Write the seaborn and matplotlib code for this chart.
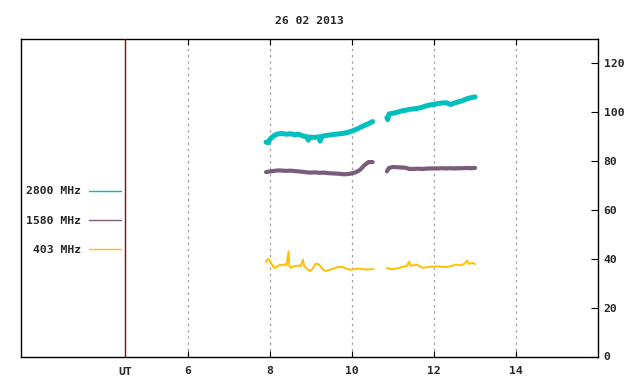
import numpy as np
import pandas as pd
import matplotlib
matplotlib.use("Agg")
import matplotlib.pyplot as plt
from matplotlib.lines import Line2D
import seaborn as sns

title = "26 02 2013"
bands = ["2800 MHz", "1580 MHz", "403 MHz"]
colors = ["#00bfbf", "#7a5c7a", "#ffc000"]

# 2800 MHz
t2800_a = [7.9, 7.95, 8.0, 8.1, 8.2, 8.3, 8.4, 8.5, 8.6, 8.7, 8.8, 8.9, 8.93, 8.96, 9.0, 9.1,
           9.2, 9.22, 9.25, 9.3, 9.4, 9.5, 9.6, 9.7, 9.8, 9.9, 10.0, 10.1, 10.2, 10.3, 10.4,
           10.5]
v2800_a = [87.8, 87.5, 89.0, 90.5, 91.2, 91.3, 91.0, 91.2, 90.8, 91.0, 90.3, 90.0, 88.6, 89.8,
           89.8, 89.7, 90.0, 88.2, 89.8, 90.3, 90.6, 90.8, 91.0, 91.2, 91.4, 91.8, 92.3, 93.0,
           93.8, 94.6, 95.3, 96.2]
t2800_b = [10.85, 10.87, 10.9, 11.0, 11.1, 11.2, 11.3, 11.4, 11.5, 11.6, 11.7, 11.8, 11.9,
           12.0, 12.1, 12.2, 12.3, 12.4, 12.5, 12.6, 12.7, 12.8, 12.9, 13.0]
v2800_b = [97.8, 97.0, 99.3, 99.6, 100.0, 100.5, 100.8, 101.2, 101.4, 101.6, 102.0, 102.6,
           103.0, 103.2, 103.6, 103.8, 103.9, 103.2, 103.8, 104.3, 104.8, 105.5, 106.0, 106.3]

# 1580 MHz
t1580_a = [7.9, 8.0, 8.1, 8.2, 8.3, 8.4, 8.5, 8.6, 8.7, 8.8, 8.9, 9.0, 9.1, 9.2, 9.3, 9.4,
           9.5, 9.6, 9.7, 9.8, 9.9, 10.0, 10.1, 10.2, 10.3, 10.4, 10.5]
v1580_a = [75.5, 75.8, 76.0, 76.2, 76.1, 76.0, 76.1, 75.9, 75.8, 75.6, 75.4, 75.3, 75.4, 75.2,
           75.3, 75.1, 75.0, 74.9, 74.8, 74.6, 74.7, 75.0, 75.5, 76.5, 78.3, 79.6, 79.6]
t1580_b = [10.85, 10.9, 11.0, 11.1, 11.2, 11.3, 11.4, 11.5, 11.6, 11.7, 11.8, 11.9, 12.0,
           12.1, 12.2, 12.3, 12.4, 12.5, 12.6, 12.7, 12.8, 12.9, 13.0]
v1580_b = [75.8, 77.2, 77.6, 77.5, 77.4, 77.3, 76.8, 76.8, 76.9, 76.8, 76.9, 77.0, 77.0, 77.0,
           77.1, 77.0, 77.1, 77.0, 77.1, 77.1, 77.2, 77.1, 77.2]

# 403 MHz
t403_a = [7.9, 7.95, 8.0, 8.05, 8.1, 8.15, 8.2, 8.25, 8.3, 8.35, 8.4, 8.45, 8.47, 8.5, 8.55,
          8.6, 8.7, 8.75, 8.8, 8.83, 8.9, 8.98, 9.05, 9.1, 9.15, 9.2, 9.25, 9.3, 9.35, 9.45,
          9.55, 9.65, 9.75, 9.8, 9.9, 9.95, 10.05, 10.15, 10.25, 10.35, 10.45, 10.52]
v403_a = [38.7, 40.0, 39.0, 37.5, 36.3, 36.5, 37.2, 37.5, 37.3, 37.8, 37.2, 43.0, 37.0, 36.3,
          36.8, 37.0, 37.3, 37.0, 39.7, 37.0, 35.8, 35.0, 36.2, 37.8, 38.0, 37.5, 36.5, 35.5,
          35.0, 35.5, 36.0, 36.6, 36.7, 36.4, 35.8, 35.5, 35.7, 36.0, 35.8, 35.6, 35.7, 35.9]
t403_b = [10.85, 10.95, 11.05, 11.15, 11.25, 11.33, 11.4, 11.42, 11.5, 11.58, 11.65, 11.74,
          11.85, 11.98, 12.1, 12.2, 12.31, 12.4, 12.5, 12.55, 12.65, 12.75, 12.8, 12.85,
          12.95, 13.0]
v403_b = [36.2, 35.8, 35.9, 36.3, 36.8, 37.0, 38.9, 37.2, 37.3, 37.6, 37.0, 36.3, 36.6, 36.8,
          36.9, 36.7, 36.6, 37.0, 37.5, 37.6, 37.3, 38.0, 39.3, 38.0, 38.3, 37.8]

ut_pos = 4.46
xtick_pos = [6, 8, 10, 12, 14]
xtick_labels = ["6", "8", "10", "12", "14"]
ytick_pos = [0, 20, 40, 60, 80, 100, 120]

def frame(t_a, v_a, t_b, v_b):
    return pd.DataFrame({
        "time": list(t_a) + list(t_b),
        "value": list(v_a) + list(v_b),
        "seg": ["a"] * len(t_a) + ["b"] * len(t_b),
    })

series = [
    frame(t2800_a, v2800_a, t2800_b, v2800_b),
    frame(t1580_a, v1580_a, t1580_b, v1580_b),
    frame(t403_a, v403_a, t403_b, v403_b),
]
widths = [3.6, 3.0, 1.4]

sns.set_style("white")
plt.rcParams["font.family"] = ["DejaVu Sans Mono"]
font = {"family": "DejaVu Sans Mono", "weight": "bold", "size": 8.2}

fig = plt.figure(figsize=(6.4, 3.84), dpi=100)
L, R, T, B = 20.5, 598, 39, 356.5
ax = fig.add_axes([L / 640, 1 - B / 384, (R - L) / 640, (B - T) / 384])

for df, c, w in zip(series, colors, widths):
    sns.lineplot(data=df, x="time", y="value", units="seg", estimator=None,
                 color=c, linewidth=w, ax=ax, legend=False)

ax.set_xlim(1.91, 16)
ax.set_ylim(0, 130)
ax.set_xlabel("")
ax.set_ylabel("")

ax.set_xticks(xtick_pos)
ax.set_xticklabels(xtick_labels, fontdict=font)
ax.yaxis.tick_right()
ax.set_yticks(ytick_pos)
ax.set_yticklabels([str(v) for v in ytick_pos], fontdict=font)
ax.tick_params(axis="x", direction="in", top=True, bottom=True, length=4, width=0.8,
               pad=7, color="black")
ax.tick_params(axis="y", direction="in", right=True, left=False, length=5, width=0.8,
               pad=4, color="black")

for x in xtick_pos:
    ax.axvline(x, color="#a0a0a0", linestyle=(0, (2, 3)), linewidth=0.9, zorder=0)
ax.axvline(ut_pos, color="#a00000", linewidth=1.0, zorder=3)
ax.text(ut_pos, -0.032, "UT", transform=ax.get_xaxis_transform(), ha="center", va="top",
        fontdict=font)

for s in ax.spines.values():
    s.set_visible(True)
    s.set_color("black")
    s.set_linewidth(1.0)

ax.set_title(title, fontdict=font, pad=11)

handles = [Line2D([0], [0], color=c, linewidth=1.0) for c in colors]
leg = ax.legend(handles, bands, markerfirst=False, frameon=False,
                loc="upper right", bbox_to_anchor=(121 / 640, 1 - 186.5 / 384),
                bbox_transform=fig.transFigure, handlelength=2.84, labelspacing=1.70,
                handletextpad=0.7, borderpad=0, borderaxespad=0, prop=font)

fig.savefig("out.png", dpi=100)
